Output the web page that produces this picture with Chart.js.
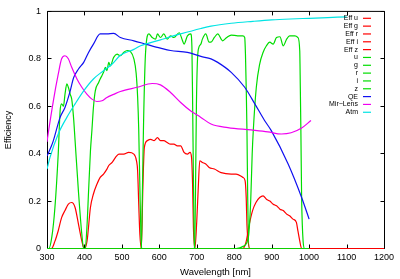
<!DOCTYPE html>
<html>
<head>
<meta charset="utf-8">
<script src="https://cdn.jsdelivr.net/npm/chart.js@4/dist/chart.umd.min.js"></script>
<style>
    html, body { margin: 0; padding: 0; background: #fff; }
    canvas { display: block; }
</style>
</head>
<body>
<canvas id="chart" width="400" height="279"></canvas>
<script>
// 波长 (nm) 和效率值, 每条曲线一组
var effUNm = [300, 312, 321, 330, 339, 348, 357, 366, 375, 384, 393, 399, 1200];
var effU   = [0, 0, 0.03, 0.075, 0.13, 0.16, 0.187, 0.194, 0.173, 0.103, 0.032, 0, 0];

var effGNm = [300, 400, 407, 416, 424, 433, 442, 451, 460, 465, 474, 483, 492, 505, 518, 532, 539, 542, 545, 548, 552, 1200];
var effG   = [0, 0, 0.032, 0.173, 0.23, 0.27, 0.3, 0.314, 0.335, 0.35, 0.363, 0.384, 0.398, 0.398, 0.405, 0.398, 0.37, 0.328, 0.187, 0.06, 0, 0];

var effRNm = [300, 552, 556, 560, 568, 577, 586, 595, 603, 612, 621, 630, 639, 648, 657, 666, 675, 682, 686, 689, 691, 695, 1200];
var effR   = [0, 0, 0.257, 0.426, 0.455, 0.46, 0.455, 0.468, 0.455, 0.455, 0.447, 0.44, 0.44, 0.433, 0.433, 0.405, 0.398, 0.405, 0.384, 0.257, 0.09, 0, 0];

var effINm = [300, 695, 700, 704, 708, 715, 724, 733, 747, 765, 792, 805, 823, 829, 832, 834, 838, 842, 1200];
var effI   = [0, 0, 0.117, 0.257, 0.37, 0.363, 0.356, 0.342, 0.335, 0.32, 0.314, 0.314, 0.3, 0.286, 0.215, 0.1, 0.02, 0, 0];

var effZNm = [300, 823, 832, 840, 849, 858, 868, 877, 886, 895, 904, 913, 922, 931, 940, 948, 957, 966, 970, 975, 980, 1200];
var effZ   = [0, 0, 0.03, 0.1, 0.16, 0.194, 0.215, 0.222, 0.208, 0.2, 0.187, 0.18, 0.166, 0.16, 0.145, 0.138, 0.124, 0.11, 0.075, 0.032, 0, 0];

// 滤光片透过率
var filtUNm = [300, 305, 313, 321, 330, 335, 339, 344, 348, 353, 357, 362, 366, 371, 375, 384, 393, 398, 1000];
var filtU   = [0, 0, 0.05, 0.17, 0.4, 0.58, 0.61, 0.6, 0.65, 0.694, 0.68, 0.65, 0.63, 0.55, 0.455, 0.24, 0.06, 0, 0];

var filtGNm = [300, 402, 407, 411, 416, 420, 424, 429, 438, 442, 447, 451, 456, 460, 465, 469, 478, 487, 496, 505, 514, 523, 532, 538, 542, 545, 548, 551, 553, 1000];
var filtG   = [0, 0, 0.1, 0.24, 0.41, 0.5, 0.595, 0.665, 0.7, 0.715, 0.73, 0.743, 0.764, 0.75, 0.785, 0.77, 0.806, 0.82, 0.813, 0.827, 0.835, 0.83, 0.8, 0.74, 0.64, 0.5, 0.26, 0.05, 0, 0];

var filtRNm = [300, 552, 555, 558, 563, 572, 581, 590, 595, 603, 612, 621, 630, 639, 653, 662, 666, 675, 684, 687, 689, 691, 693, 695, 1000];
var filtR   = [0, 0, 0.26, 0.54, 0.82, 0.905, 0.89, 0.883, 0.905, 0.89, 0.905, 0.883, 0.897, 0.89, 0.91, 0.876, 0.862, 0.897, 0.905, 0.85, 0.6, 0.3, 0.05, 0, 0];

var filtINm = [300, 693, 695, 697, 699, 702, 706, 711, 715, 724, 733, 738, 747, 756, 769, 780, 792, 809, 823, 828, 830, 832, 834, 836, 840, 1000];
var filtI   = [0, 0, 0.05, 0.3, 0.6, 0.8, 0.85, 0.862, 0.883, 0.905, 0.87, 0.87, 0.89, 0.905, 0.876, 0.89, 0.9, 0.897, 0.897, 0.89, 0.82, 0.68, 0.5, 0.215, 0, 0];

var filtZNm = [300, 805, 825, 838, 844, 848, 851, 859, 868, 877, 886, 895, 904, 913, 922, 931, 940, 948, 962, 970, 975, 976.5, 978, 980, 984, 988, 1000];
var filtZ   = [0, 0, 0.01, 0.05, 0.2, 0.4, 0.5, 0.68, 0.778, 0.827, 0.855, 0.87, 0.862, 0.89, 0.893, 0.855, 0.883, 0.897, 0.897, 0.89, 0.834, 0.68, 0.5, 0.215, 0.03, 0, 0];

// CCD 量子效率
var qeNm = [300, 312, 317, 335, 348, 362, 371, 384, 398, 411, 424, 442, 460, 478, 496, 532, 568, 603, 630, 675, 711, 738, 756, 792, 828, 855, 881, 899, 944, 980, 1000];
var qe   = [0.39, 0.433, 0.455, 0.553, 0.595, 0.665, 0.72, 0.757, 0.785, 0.827, 0.862, 0.905, 0.905, 0.907, 0.89, 0.876, 0.86, 0.845, 0.835, 0.827, 0.81, 0.8, 0.785, 0.743, 0.68, 0.61, 0.54, 0.497, 0.356, 0.215, 0.124];

// 镜面+透镜
var mirNm = [300, 303, 317, 330, 339, 348, 357, 366, 380, 393, 407, 420, 433, 447, 460, 478, 496, 541, 581, 603, 630, 657, 684, 711, 738, 783, 845, 890, 926, 952, 980, 1005];
var mir   = [0.45, 0.483, 0.623, 0.735, 0.8, 0.813, 0.8, 0.764, 0.715, 0.68, 0.65, 0.63, 0.62, 0.623, 0.637, 0.65, 0.662, 0.68, 0.696, 0.69, 0.658, 0.616, 0.58, 0.553, 0.525, 0.51, 0.5, 0.492, 0.483, 0.488, 0.508, 0.54];

// 大气透过率
var atmNm = [300, 308, 330, 353, 375, 398, 424, 451, 474, 496, 532, 550, 603, 657, 711, 738, 792, 850, 900, 950, 1000, 1050, 1100];
var atm   = [0.335, 0.384, 0.483, 0.553, 0.61, 0.665, 0.715, 0.75, 0.778, 0.815, 0.84, 0.855, 0.88, 0.905, 0.928, 0.938, 0.95, 0.958, 0.964, 0.968, 0.971, 0.974, 0.977];

var xTicks = [300, 400, 500, 600, 700, 800, 900, 1000, 1100, 1200];
var yTicks = [0, 0.2, 0.4, 0.6, 0.8, 1];

var RED = '#ff0000', GREEN = '#00dd00', BLUE = '#1010f0', MAGENTA = '#f000f0', CYAN = '#00e4e4';
var FONT = '"Liberation Sans", Arial, sans-serif';

window.onload = function() {
    // 把两组数组拼成 {x, y}
    function pts(nm, val) {
        var ret = [];
        for (var i = 0; i < nm.length; i++) {
            ret.push({x: nm[i], y: val[i]});
        }
        return ret;
    }

    var series = [
        ['Eff u', effUNm, effU, RED],
        ['Eff g', effGNm, effG, RED],
        ['Eff r', effRNm, effR, RED],
        ['Eff i', effINm, effI, RED],
        ['Eff z', effZNm, effZ, RED],
        ['u', filtUNm, filtU, GREEN],
        ['g', filtGNm, filtG, GREEN],
        ['r', filtRNm, filtR, GREEN],
        ['i', filtINm, filtI, GREEN],
        ['z', filtZNm, filtZ, GREEN],
        ['QE', qeNm, qe, BLUE],
        ['Mir\u2212Lens', mirNm, mir, MAGENTA],
        ['Atm', atmNm, atm, CYAN]
    ];

    var datasets = [];
    for (var i = 0; i < series.length; i++) {
        var s = series[i];
        datasets.push({
            label: s[0],
            data: pts(s[1], s[2]),
            borderColor: s[3],
            backgroundColor: s[3],
            borderWidth: 1.2,
            pointRadius: 0,
            fill: false,
            cubicInterpolationMode: 'monotone',
            order: -i // 后面的画在上面, 跟 gnuplot 一样
        });
    }

    // 边框和朝内的刻度 (chartArea 边在 .5 上, 线正好一像素宽)
    var framePlugin = {
        id: 'frame',
        beforeDatasetsDraw: function(chart) {
            var ctx = chart.ctx, a = chart.chartArea;
            var xs = chart.scales.x, ys = chart.scales.y;
            var L = a.left + 0.5, R = a.right + 0.5;
            var T = a.top, B = a.bottom;
            ctx.save();
            ctx.strokeStyle = '#000';
            ctx.lineWidth = 1;
            ctx.beginPath();
            ctx.rect(L, T, R - L, B - T);
            var len = 4;
            for (var i = 0; i < xTicks.length; i++) {
                var px = Math.round(xs.getPixelForValue(xTicks[i])) + 0.5;
                ctx.moveTo(px, B); ctx.lineTo(px, B - len);
                ctx.moveTo(px, T); ctx.lineTo(px, T + len);
            }
            for (var j = 0; j < yTicks.length; j++) {
                var py = Math.floor(ys.getPixelForValue(yTicks[j])) + 0.5;
                ctx.moveTo(L, py); ctx.lineTo(L + len, py);
                ctx.moveTo(R, py); ctx.lineTo(R - len, py);
            }
            ctx.stroke();
            ctx.restore();
        }
    };

    // gnuplot 风格的图例: 文字右对齐, 线段在右边
    var keyPlugin = {
        id: 'key',
        afterDatasetsDraw: function(chart) {
            var ctx = chart.ctx;
            var textRight = 358, lineL = 363, lineR = 371;
            var y0 = 18.3, step = 7.83;
            ctx.save();
            ctx.font = '7px ' + FONT;
            ctx.textAlign = 'right';
            ctx.textBaseline = 'middle';
            ctx.lineWidth = 1.2;
            chart.data.datasets.forEach(function(ds, i) {
                var y = y0 + i * step;
                ctx.fillStyle = '#000';
                ctx.fillText(ds.label, textRight, y);
                ctx.strokeStyle = ds.borderColor;
                ctx.beginPath();
                ctx.moveTo(lineL, y);
                ctx.lineTo(lineR, y);
                ctx.stroke();
            });
            ctx.restore();
        }
    };

    new Chart(document.getElementById('chart'), {
        type: 'line',
        data: {datasets: datasets},
        options: {
            responsive: false,
            devicePixelRatio: 1,
            animation: false,
            layout: {padding: {top: 10.5, right: 16, left: 0, bottom: 0}},
            plugins: {legend: {display: false}, tooltip: {enabled: false}},
            scales: {
                x: {
                    type: 'linear',
                    min: 300, max: 1200,
                    afterFit: function(s) { s.height = 30.5; },
                    afterBuildTicks: function(s) {
                        s.ticks = xTicks.map(function(v) { return {value: v}; });
                    },
                    grid: {drawOnChartArea: false, drawTicks: false},
                    border: {display: false},
                    ticks: {
                        color: '#000', padding: 4, maxRotation: 0,
                        font: {size: 9, family: FONT},
                        callback: function(v) { return String(v); }
                    },
                    title: {display: true, text: 'Wavelength [nm]', color: '#000', padding: {top: 0, bottom: 1}, font: {size: 9.5, family: FONT}}
                },
                y: {
                    min: 0, max: 1,
                    afterFit: function(s) { s.width = 47; },
                    afterBuildTicks: function(s) {
                        s.ticks = yTicks.map(function(v) { return {value: v}; });
                    },
                    grid: {drawOnChartArea: false, drawTicks: false},
                    border: {display: false},
                    ticks: {
                        color: '#000', padding: 6,
                        font: {size: 9, family: FONT},
                        callback: function(v) { return String(v); }
                    },
                    title: {display: true, text: 'Efficiency', color: '#000', padding: {top: 3, bottom: 0}, font: {size: 9, family: FONT}}
                }
            }
        },
        plugins: [framePlugin, keyPlugin]
    });
};
</script>
</body>
</html>
